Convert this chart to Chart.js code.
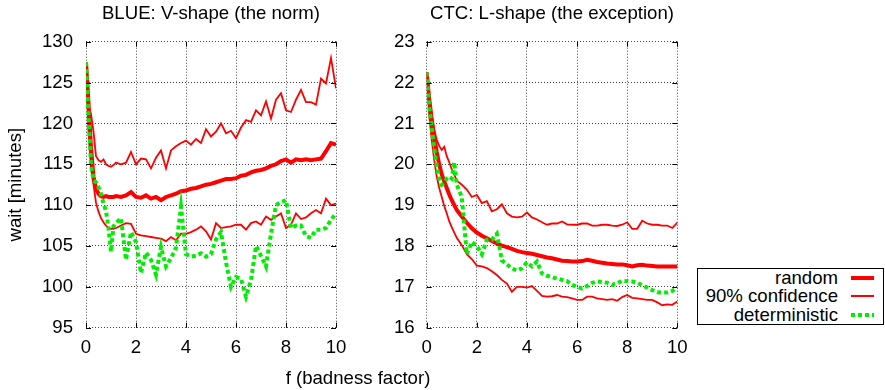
<!DOCTYPE html>
<html>
<head>
<meta charset="utf-8">
<script src="https://cdn.jsdelivr.net/npm/chart.js@4.4.1/dist/chart.umd.min.js"></script>
<style>
  body { margin: 0; background: #fff; width: 885px; height: 390px; position: relative; overflow: hidden;
         font-family: "Liberation Sans", Arial, sans-serif; color: #000; }
  #leftChart { position: absolute; left: 0; top: 0; }
  #rightChart { position: absolute; left: 350px; top: 0; }
  #xTitle { position: absolute; left: 258px; width: 200px; top: 367px; text-align: center; font-size: 18.6px; line-height: 22px; }
  #legend { position: absolute; left: 697px; top: 268px; width: 185px; height: 55px; border: 1px solid #000; }
  #legend .row { position: absolute; left: 0; width: 185px; height: 18.3px; line-height: 18.3px; font-size: 18.6px; }
  #legend .row span { position: absolute; right: 45px; white-space: nowrap; }
  #legend .row i { position: absolute; left: 153px; width: 23px; }
  .thick { top: 7px; height: 4px; background: #ff0000; }
  .thin { top: 8px; height: 2px; background: #ff0000; }
  .dots { top: 7px; height: 4px; background: repeating-linear-gradient(to right, #00ee00 0 4px, transparent 4px 7px); }
</style>
</head>
<body>
<canvas id="leftChart" width="350" height="390"></canvas>
<canvas id="rightChart" width="344" height="390"></canvas>
<div id="xTitle">f (badness factor)</div>
<div id="legend">
  <div class="row" style="top:0px"><span>random</span><i class="thick"></i></div>
  <div class="row" style="top:18.3px"><span>90% confidence</span><i class="thin"></i></div>
  <div class="row" style="top:36.6px"><span>deterministic</span><i class="dots"></i></div>
</div>
<script>
// badness factor f
const xs = [0, 0.1, 0.2, 0.3, 0.4, 0.5, 0.6, 0.7, 0.8, 0.9, 1.0, 1.1, 1.2,
  1.4, 1.6, 1.8, 2.0, 2.2, 2.4, 2.6, 2.8, 3.0, 3.2, 3.4, 3.6, 3.8, 4.0,
  4.2, 4.4, 4.6, 4.8, 5.0, 5.2, 5.4, 5.6, 5.8, 6.0, 6.2, 6.4, 6.6, 6.8, 7.0,
  7.2, 7.4, 7.6, 7.8, 8.0, 8.2, 8.4, 8.6, 8.8, 9.0, 9.2, 9.4, 9.6, 9.8, 10];

// BLUE (minutes)
const blueRandom = [127.5, 122.5, 117.0, 113.5, 112.0, 111.4, 111.1, 111.0, 111.1, 111.0, 111.0, 111.0, 111.1,
  111.0, 111.2, 111.6, 111.0, 110.9, 111.2, 110.8, 111.0, 110.6, 111.0, 111.2, 111.4, 111.7, 111.8,
  112.0, 112.1, 112.3, 112.5, 112.6, 112.8, 113.0, 113.2, 113.2, 113.3, 113.6, 113.7, 114.0, 114.2, 114.3,
  114.5, 114.8, 115.0, 115.4, 115.6, 115.2, 115.6, 115.5, 115.6, 115.5, 115.6, 115.7, 116.6, 117.6, 117.4];
const blueHigh = [127.5, 122.0, 121.2, 119.0, 116.0, 115.5, 115.3, 115.6, 115.0, 114.8, 114.7, 114.9, 115.2,
  115.0, 115.2, 116.5, 115.0, 115.7, 115.6, 114.5, 115.8, 116.7, 114.5, 116.7, 117.2, 117.6, 117.9,
  117.4, 118.1, 117.6, 119.3, 118.4, 119.0, 120.0, 118.8, 119.1, 118.2, 119.5, 120.4, 120.2, 121.6, 121.0,
  122.7, 120.6, 122.9, 123.7, 121.6, 121.4, 122.9, 124.1, 122.6, 122.6, 122.3, 125.5, 124.9, 128.0, 124.3];
const blueLow = [127.5, 119.0, 114.5, 112.5, 110.3, 109.2, 108.4, 107.9, 107.5, 107.2, 107.1, 107.1, 107.2,
  107.5, 107.8, 107.7, 106.5, 106.3, 106.2, 106.1, 106.0, 105.9, 105.6, 106.1, 105.7, 106.5, 106.5,
  106.7, 107.0, 107.4, 106.8, 105.8, 107.8, 107.2, 107.3, 107.4, 107.6, 107.6, 107.0, 107.8, 108.0, 107.6,
  108.6, 108.2, 108.6, 109.0, 107.2, 107.6, 109.0, 108.3, 108.5, 109.0, 109.4, 109.0, 110.8, 110.0, 110.2];
const blueDet = [127.5, 121.0, 115.0, 113.0, 112.8, 112.2, 111.4, 110.2, 109.3, 107.2, 104.3, 107.4, 107.8,
  108.4, 103.3, 106.7, 105.5, 101.7, 104.2, 103.3, 101.5, 104.9, 102.5, 103.5, 104.8, 109.8, 104.0,
  103.7, 103.8, 104.1, 103.7, 104.0, 105.8, 106.7, 103.0, 100.0, 101.2, 101.0, 98.8, 100.8, 105.0, 103.8,
  102.5, 106.5, 110.0, 110.4, 110.6, 107.2, 107.5, 107.5, 106.2, 106.0, 107.0, 107.0, 107.2, 108.2, 109.0];

// CTC (minutes)
const ctcRandom = [22.25, 21.6, 21.1, 20.65, 20.3, 20.0, 19.75, 19.58, 19.42, 19.26, 19.12, 19.0, 18.88,
  18.72, 18.57, 18.43, 18.33, 18.25, 18.19, 18.12, 18.06, 18.01, 17.97, 17.93, 17.88, 17.85, 17.83,
  17.81, 17.78, 17.75, 17.72, 17.70, 17.67, 17.64, 17.63, 17.62, 17.62, 17.63, 17.66, 17.64, 17.61, 17.59,
  17.57, 17.56, 17.55, 17.55, 17.53, 17.50, 17.53, 17.54, 17.52, 17.51, 17.50, 17.50, 17.50, 17.50, 17.50];
const ctcHigh = [22.25, 21.7, 21.2, 20.85, 20.6, 20.45, 20.35, 20.43, 20.2, 20.05, 19.88, 19.75, 19.6,
  19.5, 19.38, 19.2, 19.25, 19.05, 19.1, 18.85, 18.9, 19.02, 18.8, 18.72, 18.7, 18.72, 18.82,
  18.7, 18.65, 18.58, 18.52, 18.55, 18.55, 18.6, 18.53, 18.52, 18.52, 18.55, 18.55, 18.5, 18.5, 18.52,
  18.52, 18.5, 18.49, 18.52, 18.58, 18.42, 18.42, 18.62, 18.55, 18.52, 18.52, 18.5, 18.5, 18.44, 18.57];
const ctcLow = [22.25, 21.2, 20.6, 20.1, 19.7, 19.42, 19.2, 18.98, 18.8, 18.6, 18.46, 18.33, 18.2,
  18.02, 17.8, 17.68, 17.52, 17.5, 17.46, 17.38, 17.29, 17.17, 17.08, 16.88, 17.0, 17.0, 16.98,
  17.02, 16.9, 16.78, 16.76, 16.77, 16.8, 16.76, 16.75, 16.72, 16.68, 16.68, 16.76, 16.76, 16.72, 16.7,
  16.68, 16.7, 16.66, 16.75, 16.8, 16.73, 16.72, 16.7, 16.68, 16.68, 16.62, 16.55, 16.57, 16.56, 16.64];
const ctcDet = [22.25, 21.4, 20.9, 20.4, 19.95, 19.65, 19.5, 19.55, 19.65, 19.7, 19.65, 20.05, 19.5,
  19.2, 17.8, 18.1, 18.0, 17.8, 18.15, 18.15, 18.3, 17.65, 17.55, 17.45, 17.4, 17.45, 17.6,
  17.5, 17.62, 17.33, 17.27, 17.24, 17.2, 17.17, 17.14, 17.05, 17.0, 16.96, 17.02, 17.1, 17.13, 17.12,
  17.1, 17.05, 17.08, 17.15, 17.14, 17.13, 17.1, 17.04, 16.98, 16.92, 16.87, 16.86, 16.86, 16.9, 16.98];

const FONT = '"Liberation Sans", Arial, sans-serif';
const FSIZE = 18.6;
const RED = '#ff0000';
const GREEN = '#00ee00';

// gnuplot-style inward tick marks on all four sides
const innerTicks = {
  id: 'innerTicks',
  afterDraw(chart) {
    const { ctx, chartArea: a, scales } = chart;
    const len = 5;
    ctx.save();
    ctx.strokeStyle = '#000';
    ctx.lineWidth = 1;
    ctx.beginPath();
    scales.x.ticks.forEach(t => {
      const px = Math.round(scales.x.getPixelForValue(t.value)) + 0.5;
      ctx.moveTo(px, a.bottom); ctx.lineTo(px, a.bottom - len);
      ctx.moveTo(px, a.top); ctx.lineTo(px, a.top + len);
    });
    scales.y.ticks.forEach(t => {
      const py = Math.round(scales.y.getPixelForValue(t.value)) + 0.5;
      ctx.moveTo(a.left, py); ctx.lineTo(a.left + len, py);
      ctx.moveTo(a.right, py); ctx.lineTo(a.right - len, py);
    });
    ctx.stroke();
    ctx.restore();
  }
};

function points(values) {
  return xs.map((x, i) => ({ x: x, y: values[i] }));
}

function makeChart(id, title, random, high, low, det, yMin, yMax, yStep, yWidth, yTitle, padRight, yPad) {
  const ctx = document.getElementById(id).getContext('2d');
  return new Chart(ctx, {
    type: 'line',
    data: {
      datasets: [
        { label: 'deterministic', data: points(det), borderColor: GREEN, borderWidth: 4, borderDash: [4, 3] },
        { label: '90% confidence', data: points(high), borderColor: RED, borderWidth: 1.8 },
        { label: '90% confidence low', data: points(low), borderColor: RED, borderWidth: 1.8 },
        { label: 'random', data: points(random), borderColor: RED, borderWidth: 4 }
      ]
    },
    options: {
      responsive: false,
      animation: false,
      events: [],
      elements: { point: { radius: 0 }, line: { tension: 0, borderCapStyle: 'butt', borderJoinStyle: 'miter' } },
      layout: { padding: { left: 0, right: padRight, top: 0, bottom: 0 } },
      plugins: {
        legend: { display: false },
        tooltip: { enabled: false },
        title: {
          display: true, text: title, fullSize: false, color: '#000',
          font: { family: FONT, size: FSIZE, weight: 'normal' },
          padding: { top: 2.3, bottom: 17.1 }
        }
      },
      scales: {
        x: {
          type: 'linear', min: 0, max: 10,
          ticks: { stepSize: 2, padding: 9, color: '#000', font: { family: FONT, size: FSIZE } },
          grid: { color: '#444', drawTicks: false },
          border: { display: false, dash: [1, 2] },
          afterFit(s) { s.height = 62.3; s.paddingLeft = 0; s.paddingRight = 0; }
        },
        y: {
          min: yMin, max: yMax,
          ticks: { stepSize: yStep, padding: yPad, color: '#000', font: { family: FONT, size: FSIZE } },
          grid: { color: '#444', drawTicks: false },
          border: { display: false, dash: [1, 2] },
          title: {
            display: !!yTitle, text: yTitle, color: '#000',
            font: { family: FONT, size: FSIZE }, padding: { top: 4.3, bottom: 0 }
          },
          afterFit(s) { s.width = yWidth; s.paddingTop = 0; s.paddingBottom = 0; }
        }
      }
    },
    plugins: [innerTicks]
  });
}

makeChart('leftChart', 'BLUE: V-shape (the norm)', blueRandom, blueHigh, blueLow, blueDet,
  95, 130, 5, 86, 'wait [minutes]', 14, 13);
makeChart('rightChart', 'CTC: L-shape (the exception)', ctcRandom, ctcHigh, ctcLow, ctcDet,
  16, 23, 1, 76.7, '', 16.7, 12);
</script>
</body>
</html>
